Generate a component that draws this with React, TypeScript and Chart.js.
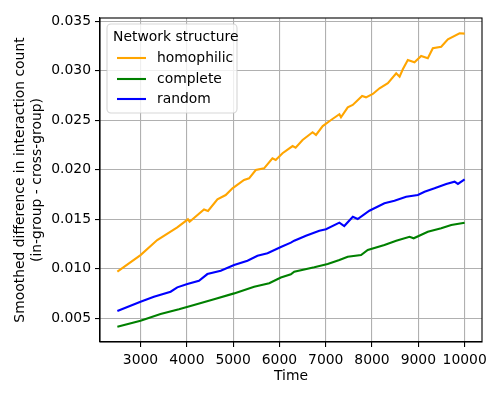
import React, { useEffect, useRef } from "react";
import { Chart, registerables } from "chart.js";

Chart.register(...registerables);

const homophilicT = [2500, 3000, 3361, 3794, 4024, 4060, 4371, 4458, 4661, 4840, 4986, 5236, 5345, 5489, 5669, 5849, 5920, 6067, 6284, 6350, 6500, 6716, 6790, 6935, 7115, 7295, 7330, 7475, 7583, 7786, 7870, 8017, 8162, 8342, 8522, 8595, 8665, 8773, 8917, 9061, 9205, 9313, 9494, 9638, 9891, 10000];
const homophilicV = [0.00971, 0.01139, 0.01291, 0.01419, 0.015, 0.01476, 0.016, 0.01584, 0.01702, 0.01745, 0.01813, 0.01897, 0.01914, 0.01998, 0.02015, 0.02116, 0.02099, 0.02167, 0.0224, 0.02223, 0.02301, 0.02379, 0.02352, 0.02442, 0.02503, 0.02561, 0.0253, 0.02631, 0.02655, 0.02745, 0.02732, 0.02766, 0.02823, 0.02874, 0.02975, 0.0294, 0.03015, 0.03109, 0.03086, 0.0315, 0.03126, 0.03227, 0.03243, 0.03318, 0.03379, 0.03375];

const completeT = [2500, 3000, 3433, 3830, 4155, 4588, 5021, 5454, 5779, 6031, 6247, 6320, 6753, 7042, 7295, 7475, 7763, 7908, 8268, 8522, 8810, 8900, 9205, 9494, 9711, 10000];
const completeV = [0.00415, 0.00476, 0.00543, 0.00591, 0.00634, 0.00692, 0.00752, 0.00819, 0.00854, 0.00912, 0.00944, 0.00971, 0.01015, 0.01048, 0.01089, 0.01122, 0.01139, 0.0119, 0.0124, 0.01284, 0.01324, 0.01308, 0.01375, 0.01409, 0.01442, 0.01466];

const randomT = [2500, 3000, 3289, 3650, 3794, 4011, 4262, 4444, 4732, 5021, 5310, 5526, 5743, 6031, 6247, 6320, 6573, 6862, 7006, 7295, 7400, 7585, 7690, 7943, 8268, 8484, 8737, 8990, 9134, 9350, 9603, 9783, 9855, 10000];
const randomV = [0.00574, 0.00668, 0.00718, 0.00769, 0.00813, 0.00846, 0.0088, 0.00947, 0.00981, 0.01038, 0.01082, 0.01132, 0.01157, 0.0122, 0.01264, 0.01284, 0.01334, 0.01385, 0.01399, 0.01466, 0.01432, 0.01526, 0.01503, 0.01587, 0.01662, 0.01688, 0.01728, 0.01746, 0.01779, 0.01813, 0.01857, 0.0188, 0.01857, 0.01904];

const seriesNames = ["homophilic", "complete", "random"];
const seriesColors = ["#FFA500", "#008000", "#0000FF"];
const legendTitle = "Network structure";
const xTickValues = [3000, 4000, 5000, 6000, 7000, 8000, 9000, 10000];
const yTickValues = [0.005, 0.01, 0.015, 0.02, 0.025, 0.03, 0.035];
const xTitle = "Time";
const yTitle = ["Smoothed difference in interaction count", "(in-group - cross-group)"];

const FONT = "'DejaVu Sans', sans-serif";
const FS = 13.9;

const toPoints = (t: number[], v: number[]) => t.map((x, i) => ({ x, y: v[i] }));

const framePlugin = {
  id: "frame",
  afterDraw(chart: any) {
    const { ctx, chartArea } = chart;
    const { left, right, top, bottom } = chartArea;
    ctx.save();
    ctx.strokeStyle = "#000";
    ctx.lineWidth = 1.1;
    ctx.strokeRect(left, top, right - left, bottom - top);

    // legend
    const bx = 107, by = 24, bw = 130, bh = 89, r = 4;
    ctx.beginPath();
    ctx.moveTo(bx + r, by);
    ctx.lineTo(bx + bw - r, by);
    ctx.arcTo(bx + bw, by, bx + bw, by + r, r);
    ctx.lineTo(bx + bw, by + bh - r);
    ctx.arcTo(bx + bw, by + bh, bx + bw - r, by + bh, r);
    ctx.lineTo(bx + r, by + bh);
    ctx.arcTo(bx, by + bh, bx, by + bh - r, r);
    ctx.lineTo(bx, by + r);
    ctx.arcTo(bx, by, bx + r, by, r);
    ctx.closePath();
    ctx.fillStyle = "rgba(255,255,255,0.8)";
    ctx.fill();
    ctx.strokeStyle = "rgba(204,204,204,0.8)";
    ctx.lineWidth = 1.1;
    ctx.stroke();

    ctx.font = `${FS}px ${FONT}`;
    ctx.fillStyle = "#000";
    ctx.textBaseline = "middle";
    ctx.textAlign = "left";
    ctx.fillText(legendTitle, 113, 37);
    const ys = [58, 79, 99];
    seriesNames.forEach((name, i) => {
      ctx.strokeStyle = seriesColors[i];
      ctx.lineWidth = 2.1;
      ctx.beginPath();
      ctx.moveTo(117, ys[i]);
      ctx.lineTo(146, ys[i]);
      ctx.stroke();
      ctx.fillStyle = "#000";
      ctx.fillText(name, 157, ys[i]);
    });
    ctx.restore();
  },
};

export default function App() {
  const ref = useRef<HTMLCanvasElement | null>(null);
  useEffect(() => {
    document.body.style.margin = "0";
    const canvas = ref.current!;
    const series = [
      toPoints(homophilicT, homophilicV),
      toPoints(completeT, completeV),
      toPoints(randomT, randomV),
    ];
    const chart = new Chart(canvas, {
      type: "line",
      data: {
        datasets: series.map((d, i) => ({
          label: seriesNames[i],
          data: d,
          borderColor: seriesColors[i],
          backgroundColor: seriesColors[i],
          borderWidth: 2.1,
          pointRadius: 0,
          tension: 0,
          fill: false,
        })),
      },
      options: {
        animation: false,
        responsive: false,
        maintainAspectRatio: false,
        layout: { padding: { left: 0, right: 18, top: 18, bottom: 0 } },
        plugins: { legend: { display: false }, tooltip: { enabled: false } },
        scales: {
          x: {
            type: "linear",
            min: 2125,
            max: 10375,
            afterBuildTicks: (s: any) => {
              s.ticks = xTickValues.map((v) => ({ value: v }));
            },
            afterFit: (s: any) => {
              s.height = 58;
            },
            ticks: {
              callback: (v: any) => String(v),
              color: "#000",
              font: { family: FONT, size: FS },
              padding: 5.5,
              maxRotation: 0,
              autoSkip: false,
            },
            grid: {
              color: "#b0b0b0",
              lineWidth: 1.1,
              drawTicks: true,
              tickLength: 5,
              tickColor: "#000",
              tickWidth: 1.1,
            },
            border: { display: true, color: "#000", width: 1.1 },
            title: {
              display: true,
              text: xTitle,
              color: "#000",
              font: { family: FONT, size: FS, lineHeight: 1.2 },
              padding: { top: 0, bottom: 15 },
            },
          },
          y: {
            type: "linear",
            min: 0.00261,
            max: 0.03533,
            afterBuildTicks: (s: any) => {
              s.ticks = yTickValues.map((v) => ({ value: v }));
            },
            afterFit: (s: any) => {
              s.width = 100;
            },
            ticks: {
              callback: (v: any) => Number(v).toFixed(3),
              color: "#000",
              font: { family: FONT, size: FS },
              padding: 4,
              autoSkip: false,
            },
            grid: {
              color: "#b0b0b0",
              lineWidth: 1.1,
              drawTicks: true,
              tickLength: 5,
              tickColor: "#000",
              tickWidth: 1.1,
            },
            border: { display: true, color: "#000", width: 1.1 },
            title: {
              display: true,
              text: yTitle,
              color: "#000",
              font: { family: FONT, size: FS, lineHeight: 1.2 },
              padding: { top: 12, bottom: 0 },
            },
          },
        },
      },
      plugins: [framePlugin],
    });
    return () => chart.destroy();
  }, []);
  return (
    <div style={{ width: 500, height: 400 }}>
      <canvas ref={ref} width={500} height={400} style={{ width: 500, height: 400, display: "block" }} />
    </div>
  );
}
